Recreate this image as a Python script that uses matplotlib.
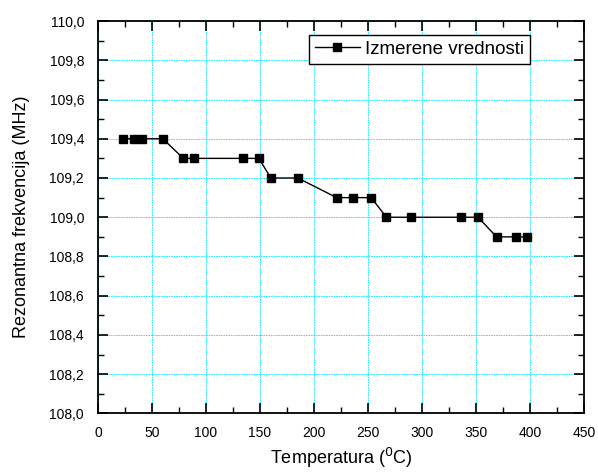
import matplotlib
matplotlib.use("Agg")
import matplotlib.pyplot as plt
from matplotlib.ticker import MultipleLocator, FuncFormatter

# izmerene vrednosti (ocitano sa slike)
temperatura = [23, 33, 41, 60, 79, 89, 134, 149, 160, 185, 221, 236, 253,
               267, 290, 336, 352, 369, 387, 397]
frekvencija = [109.4, 109.4, 109.4, 109.4, 109.3, 109.3, 109.3, 109.3,
               109.2, 109.2, 109.1, 109.1, 109.1, 109.0, 109.0, 109.0,
               109.0, 108.9, 108.9, 108.9]

plt.rcParams["font.family"] = ["Liberation Sans", "DejaVu Sans"]

fig = plt.figure(figsize=(5.98, 4.73), dpi=100)
ax = fig.add_axes([0.1639, 0.1258, 0.8127, 0.8298])

ax.plot(temperatura, frekvencija, color="black", lw=1.0, marker="s",
        ms=5.2, mfc="black", mec="black", label="Izmerene vrednosti")

ax.set_xlim(0, 450)
ax.set_ylim(108.0, 110.0)
ax.xaxis.set_major_locator(MultipleLocator(50))
ax.xaxis.set_minor_locator(MultipleLocator(25))
ax.yaxis.set_major_locator(MultipleLocator(0.2))
ax.yaxis.set_minor_locator(MultipleLocator(0.1))
ax.yaxis.set_major_formatter(FuncFormatter(lambda v, p: f"{v:.1f}".replace(".", ",")))

ax.grid(True, which="major", color="#00e5ff", lw=0.6, ls=(0, (2, 1)))
ax.tick_params(which="both", direction="in", top=True, right=True,
               labelsize=10, colors="black")
ax.tick_params(which="major", length=7, width=1.2)
ax.tick_params(which="minor", length=4, width=1)
ax.tick_params(axis="y", pad=10)
ax.tick_params(axis="x", pad=9)
for s in ax.spines.values():
    s.set_linewidth(1.3)

ax.set_xlabel("Temperatura ($^{0}$C)", fontsize=13, labelpad=4)
ax.set_ylabel("Rezonantna frekvencija (MHz)", fontsize=13, labelpad=14)

ax.legend(loc="upper right", bbox_to_anchor=(0.889, 0.964), fontsize=13.5,
          frameon=True, fancybox=False, edgecolor="black", framealpha=1,
          handlelength=2.4, borderpad=0.3, handletextpad=0.3,
          borderaxespad=0)

fig.savefig("out.png", dpi=100, facecolor="white")
